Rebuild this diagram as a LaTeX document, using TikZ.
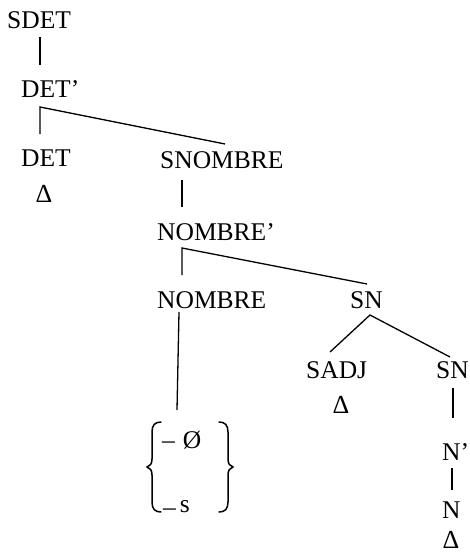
\documentclass[tikz,border=0pt]{standalone}
\usepackage{fontspec}
\setmainfont{Liberation Serif}
\begin{document}
\begin{tikzpicture}[x=1pt,y=-1pt,
  lbl/.style={anchor=base west, inner sep=0pt, font=\fontsize{25.5}{29}\selectfont},
  empty/.style={anchor=base, inner sep=0pt, font=\fontsize{26}{30}\selectfont},
  branch/.style={line width=1.3pt},
  bracepath/.style={line width=1.5pt, line cap=round}]
\useasboundingbox (0,0) rectangle (470,555);

% category labels
\node[lbl] (sdet)    at (7,28)    {SDET};
\node[lbl] (detbar)  at (21,97)   {DET’};
\node[lbl] (det)     at (21,166)  {DET};
\node[empty] (detE)  at (44,202)  {Δ};
\node[lbl] (snombre) at (160,168) {SNOMBRE};
\node[lbl] (nbar)    at (157,240) {NOMBRE’};
\node[lbl] (nombre)  at (157,308) {NOMBRE};
\node[lbl] (sn)      at (350,308) {SN};
\node[lbl] (sadj)    at (306,378) {SADJ};
\node[empty] (sadjE) at (341,413) {Δ};
\node[lbl] (sn2)     at (436,378) {SN};
\node[lbl] (nprime)  at (442,460) {N’};
\node[lbl] (n)       at (442,518) {N};
\node[empty] (nE)    at (451,548) {Δ};

% the two number values inside braces
\node[lbl] (zero)   at (162,448) {–\hspace{8pt}Ø};
\node[lbl] (plural) at (163,512) {\raisebox{-3pt}{–}\hspace{4pt}s};

% attachment points of the branches
\coordinate (sdet-b)    at (40,37);
\coordinate (detbar-t)  at (40,65);
\coordinate (detbar-b)  at (40,107);
\coordinate (det-t)     at (40,134);
\coordinate (snombre-t) at (225,144);
\coordinate (snombre-b) at (182,180);
\coordinate (nbar-t)    at (182,207);
\coordinate (nbar-b)    at (182,248);
\coordinate (nombre-t)  at (182,275);
\coordinate (sn-t)      at (367,284);
\coordinate (nombre-b)  at (179,312);
\coordinate (brace-t)   at (177,410);
\coordinate (sn-b)      at (370,315);
\coordinate (sadj-t)    at (330,352);
\coordinate (sn2-t)     at (450,357);
\coordinate (sn2-b)     at (453,388);
\coordinate (nprime-t)  at (453,418);
\coordinate (nprime-b)  at (452,468);
\coordinate (n-t)       at (452,490);

% branches
\draw[branch] (sdet-b) -- (detbar-t);
\draw[branch] (det-t) -- (detbar-b) -- (snombre-t);
\draw[branch] (snombre-b) -- (nbar-t);
\draw[branch] (nombre-t) -- (nbar-b) -- (sn-t);
\draw[branch] (nombre-b) -- (brace-t);
\draw[branch] (sadj-t) -- (sn-b) -- (sn2-t);
\draw[branch] (sn2-b) -- (nprime-t);
\draw[branch] (nprime-b) -- (n-t);

% curly braces round the values
\draw[bracepath] (161,422) .. controls (155,422) and (152,425) .. (152,432)
  -- (152,459) .. controls (152,464) and (150,466) .. (147,467)
  .. controls (150,468) and (152,470) .. (152,475)
  -- (152,502) .. controls (152,509) and (155,512) .. (161,512);
\draw[bracepath] (219,422) .. controls (225,422) and (228,425) .. (228,432)
  -- (228,459) .. controls (228,464) and (230,466) .. (233,467)
  .. controls (230,468) and (228,470) .. (228,475)
  -- (228,502) .. controls (228,509) and (225,512) .. (219,512);
\end{tikzpicture}
\end{document}
